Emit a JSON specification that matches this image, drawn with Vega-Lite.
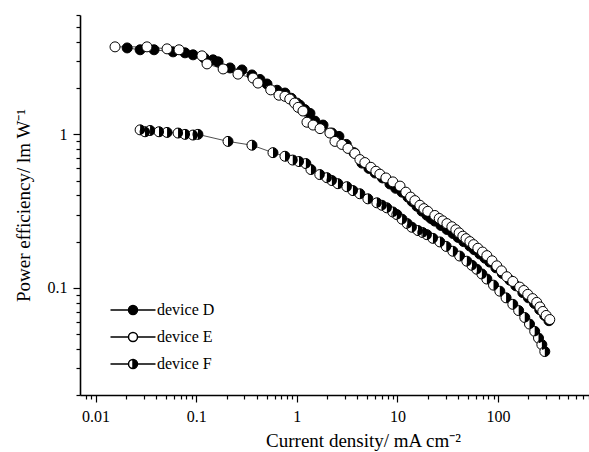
{
  "$schema": "https://vega.github.io/schema/vega-lite/v6.json",
  "width": 509,
  "height": 380,
  "autosize": "none",
  "padding": {"left": 80, "top": 15, "right": 0, "bottom": 57},
  "background": "white",
  "config": {"view": {"stroke": null}},
  "datasets": {
    "pts": [
      {"device": "device D", "j": 0.0206, "pe": 3.66},
      {"device": "device D", "j": 0.0277, "pe": 3.56},
      {"device": "device D", "j": 0.0381, "pe": 3.56},
      {"device": "device D", "j": 0.0589, "pe": 3.45},
      {"device": "device D", "j": 0.0774, "pe": 3.40},
      {"device": "device D", "j": 0.093, "pe": 3.30},
      {"device": "device D", "j": 0.12, "pe": 3.15},
      {"device": "device D", "j": 0.147, "pe": 3.06},
      {"device": "device D", "j": 0.165, "pe": 2.97},
      {"device": "device D", "j": 0.217, "pe": 2.71},
      {"device": "device D", "j": 0.285, "pe": 2.63},
      {"device": "device D", "j": 0.358, "pe": 2.44},
      {"device": "device D", "j": 0.43, "pe": 2.28},
      {"device": "device D", "j": 0.505, "pe": 2.13},
      {"device": "device D", "j": 0.635, "pe": 1.94},
      {"device": "device D", "j": 0.762, "pe": 1.86},
      {"device": "device D", "j": 0.88, "pe": 1.72},
      {"device": "device D", "j": 1.0, "pe": 1.60},
      {"device": "device D", "j": 1.07, "pe": 1.55},
      {"device": "device D", "j": 1.2, "pe": 1.45},
      {"device": "device D", "j": 1.35, "pe": 1.37},
      {"device": "device D", "j": 1.51, "pe": 1.22},
      {"device": "device D", "j": 1.82, "pe": 1.15},
      {"device": "device D", "j": 2.23, "pe": 1.02},
      {"device": "device D", "j": 2.62, "pe": 0.97},
      {"device": "device D", "j": 3.1, "pe": 0.86},
      {"device": "device D", "j": 3.7, "pe": 0.76},
      {"device": "device D", "j": 4.43, "pe": 0.65},
      {"device": "device D", "j": 5.2, "pe": 0.60},
      {"device": "device D", "j": 6.0, "pe": 0.56},
      {"device": "device D", "j": 7.1, "pe": 0.52},
      {"device": "device D", "j": 8.41, "pe": 0.475},
      {"device": "device D", "j": 9.6, "pe": 0.445},
      {"device": "device D", "j": 11.1, "pe": 0.42},
      {"device": "device D", "j": 12.7, "pe": 0.39},
      {"device": "device D", "j": 14.0, "pe": 0.365},
      {"device": "device D", "j": 15.6, "pe": 0.34},
      {"device": "device D", "j": 17.5, "pe": 0.316},
      {"device": "device D", "j": 19.6, "pe": 0.297},
      {"device": "device D", "j": 21.5, "pe": 0.283},
      {"device": "device D", "j": 23.5, "pe": 0.272},
      {"device": "device D", "j": 27, "pe": 0.255},
      {"device": "device D", "j": 31, "pe": 0.24},
      {"device": "device D", "j": 35.5, "pe": 0.226},
      {"device": "device D", "j": 40, "pe": 0.213},
      {"device": "device D", "j": 45.5, "pe": 0.2},
      {"device": "device D", "j": 52.4, "pe": 0.187},
      {"device": "device D", "j": 58, "pe": 0.177},
      {"device": "device D", "j": 65.8, "pe": 0.166},
      {"device": "device D", "j": 74, "pe": 0.156},
      {"device": "device D", "j": 82.7, "pe": 0.147},
      {"device": "device D", "j": 95, "pe": 0.135},
      {"device": "device D", "j": 110, "pe": 0.124},
      {"device": "device D", "j": 131, "pe": 0.112},
      {"device": "device D", "j": 150, "pe": 0.103},
      {"device": "device D", "j": 176, "pe": 0.093},
      {"device": "device D", "j": 200, "pe": 0.086},
      {"device": "device D", "j": 230, "pe": 0.079},
      {"device": "device D", "j": 259, "pe": 0.072},
      {"device": "device D", "j": 290, "pe": 0.066},
      {"device": "device D", "j": 320, "pe": 0.061},
      {"device": "device E", "j": 0.0156, "pe": 3.72},
      {"device": "device E", "j": 0.0324, "pe": 3.72},
      {"device": "device E", "j": 0.0513, "pe": 3.61},
      {"device": "device E", "j": 0.0675, "pe": 3.56},
      {"device": "device E", "j": 0.114, "pe": 3.25},
      {"device": "device E", "j": 0.128, "pe": 2.88},
      {"device": "device E", "j": 0.185, "pe": 2.67},
      {"device": "device E", "j": 0.26, "pe": 2.47},
      {"device": "device E", "j": 0.367, "pe": 2.33},
      {"device": "device E", "j": 0.411, "pe": 2.16},
      {"device": "device E", "j": 0.55, "pe": 1.95},
      {"device": "device E", "j": 0.664, "pe": 1.80},
      {"device": "device E", "j": 0.762, "pe": 1.77},
      {"device": "device E", "j": 0.85, "pe": 1.70},
      {"device": "device E", "j": 0.95, "pe": 1.60},
      {"device": "device E", "j": 1.03, "pe": 1.50},
      {"device": "device E", "j": 1.15, "pe": 1.42},
      {"device": "device E", "j": 1.26, "pe": 1.20},
      {"device": "device E", "j": 1.45, "pe": 1.15},
      {"device": "device E", "j": 1.7, "pe": 1.09},
      {"device": "device E", "j": 2.13, "pe": 1.02},
      {"device": "device E", "j": 2.39, "pe": 0.90},
      {"device": "device E", "j": 2.80, "pe": 0.86},
      {"device": "device E", "j": 3.22, "pe": 0.81},
      {"device": "device E", "j": 3.77, "pe": 0.75},
      {"device": "device E", "j": 4.23, "pe": 0.685},
      {"device": "device E", "j": 4.74, "pe": 0.655},
      {"device": "device E", "j": 5.44, "pe": 0.61},
      {"device": "device E", "j": 6.1, "pe": 0.575},
      {"device": "device E", "j": 6.68, "pe": 0.55},
      {"device": "device E", "j": 7.67, "pe": 0.52},
      {"device": "device E", "j": 9.0, "pe": 0.49},
      {"device": "device E", "j": 10.6, "pe": 0.46},
      {"device": "device E", "j": 12.1, "pe": 0.42},
      {"device": "device E", "j": 13.5, "pe": 0.39},
      {"device": "device E", "j": 14.9, "pe": 0.37},
      {"device": "device E", "j": 16.7, "pe": 0.345},
      {"device": "device E", "j": 18.3, "pe": 0.328},
      {"device": "device E", "j": 20.0, "pe": 0.315},
      {"device": "device E", "j": 23.5, "pe": 0.296},
      {"device": "device E", "j": 26, "pe": 0.283},
      {"device": "device E", "j": 28.2, "pe": 0.273},
      {"device": "device E", "j": 31, "pe": 0.262},
      {"device": "device E", "j": 34.7, "pe": 0.25},
      {"device": "device E", "j": 38, "pe": 0.239},
      {"device": "device E", "j": 41, "pe": 0.228},
      {"device": "device E", "j": 44.6, "pe": 0.217},
      {"device": "device E", "j": 48, "pe": 0.209},
      {"device": "device E", "j": 52.4, "pe": 0.2},
      {"device": "device E", "j": 57, "pe": 0.191},
      {"device": "device E", "j": 62.9, "pe": 0.181},
      {"device": "device E", "j": 70, "pe": 0.171},
      {"device": "device E", "j": 77.3, "pe": 0.162},
      {"device": "device E", "j": 87, "pe": 0.15},
      {"device": "device E", "j": 97, "pe": 0.139},
      {"device": "device E", "j": 108, "pe": 0.129},
      {"device": "device E", "j": 122, "pe": 0.118},
      {"device": "device E", "j": 140, "pe": 0.11},
      {"device": "device E", "j": 164, "pe": 0.101},
      {"device": "device E", "j": 180, "pe": 0.096},
      {"device": "device E", "j": 197, "pe": 0.0906},
      {"device": "device E", "j": 220, "pe": 0.085},
      {"device": "device E", "j": 242, "pe": 0.0803},
      {"device": "device E", "j": 260, "pe": 0.075},
      {"device": "device E", "j": 278, "pe": 0.0701},
      {"device": "device E", "j": 300, "pe": 0.066},
      {"device": "device E", "j": 326, "pe": 0.0621},
      {"device": "device F", "j": 0.0277, "pe": 1.07},
      {"device": "device F", "j": 0.031, "pe": 1.04},
      {"device": "device F", "j": 0.0348, "pe": 1.06},
      {"device": "device F", "j": 0.0427, "pe": 1.04},
      {"device": "device F", "j": 0.0513, "pe": 1.03},
      {"device": "device F", "j": 0.066, "pe": 1.02},
      {"device": "device F", "j": 0.0774, "pe": 1.00},
      {"device": "device F", "j": 0.093, "pe": 0.99},
      {"device": "device F", "j": 0.104, "pe": 1.00},
      {"device": "device F", "j": 0.207, "pe": 0.90},
      {"device": "device F", "j": 0.358, "pe": 0.85},
      {"device": "device F", "j": 0.579, "pe": 0.76},
      {"device": "device F", "j": 0.762, "pe": 0.72},
      {"device": "device F", "j": 0.91, "pe": 0.68},
      {"device": "device F", "j": 1.05, "pe": 0.665},
      {"device": "device F", "j": 1.23, "pe": 0.645},
      {"device": "device F", "j": 1.38, "pe": 0.59},
      {"device": "device F", "j": 1.69, "pe": 0.547},
      {"device": "device F", "j": 1.99, "pe": 0.522},
      {"device": "device F", "j": 2.23, "pe": 0.50},
      {"device": "device F", "j": 2.56, "pe": 0.477},
      {"device": "device F", "j": 3.14, "pe": 0.456},
      {"device": "device F", "j": 3.61, "pe": 0.43},
      {"device": "device F", "j": 4.23, "pe": 0.41},
      {"device": "device F", "j": 5.08, "pe": 0.38},
      {"device": "device F", "j": 6.24, "pe": 0.358},
      {"device": "device F", "j": 7.0, "pe": 0.345},
      {"device": "device F", "j": 7.84, "pe": 0.332},
      {"device": "device F", "j": 9.0, "pe": 0.312},
      {"device": "device F", "j": 9.86, "pe": 0.30},
      {"device": "device F", "j": 11.1, "pe": 0.28},
      {"device": "device F", "j": 12.5, "pe": 0.262},
      {"device": "device F", "j": 13.9, "pe": 0.248},
      {"device": "device F", "j": 16, "pe": 0.236},
      {"device": "device F", "j": 17.8, "pe": 0.229},
      {"device": "device F", "j": 19.6, "pe": 0.222},
      {"device": "device F", "j": 22.5, "pe": 0.21},
      {"device": "device F", "j": 26.4, "pe": 0.199},
      {"device": "device F", "j": 30.5, "pe": 0.186},
      {"device": "device F", "j": 35.5, "pe": 0.173},
      {"device": "device F", "j": 41.5, "pe": 0.161},
      {"device": "device F", "j": 48.9, "pe": 0.149},
      {"device": "device F", "j": 55, "pe": 0.140},
      {"device": "device F", "j": 61.4, "pe": 0.132},
      {"device": "device F", "j": 69, "pe": 0.123},
      {"device": "device F", "j": 77.3, "pe": 0.114},
      {"device": "device F", "j": 90, "pe": 0.104},
      {"device": "device F", "j": 104, "pe": 0.095},
      {"device": "device F", "j": 120, "pe": 0.086},
      {"device": "device F", "j": 140, "pe": 0.078},
      {"device": "device F", "j": 160, "pe": 0.071},
      {"device": "device F", "j": 184, "pe": 0.064},
      {"device": "device F", "j": 205, "pe": 0.058},
      {"device": "device F", "j": 231, "pe": 0.052},
      {"device": "device F", "j": 252, "pe": 0.047},
      {"device": "device F", "j": 272, "pe": 0.0426},
      {"device": "device F", "j": 291, "pe": 0.0384}
    ]
  },
  "data": {"name": "pts"},
  "encoding": {
    "x": {
      "field": "j", "type": "quantitative",
      "scale": {"type": "log", "domain": [0.007, 800], "nice": false},
      "axis": {
        "title": "Current density/ mA cm⁻²",
        "titleFont": "Liberation Serif", "titleFontSize": 19, "titleFontWeight": "normal", "titleColor": "black",
        "titleX": 283, "titlePadding": 7,
        "values": [0.008, 0.009, 0.01, 0.02, 0.03, 0.04, 0.05, 0.06, 0.07, 0.08, 0.09, 0.1, 0.2, 0.3, 0.4, 0.5, 0.6, 0.7, 0.8, 0.9, 1, 2, 3, 4, 5, 6, 7, 8, 9, 10, 20, 30, 40, 50, 60, 70, 80, 90, 100, 200, 300, 400, 500, 600, 700, 800],
        "format": "~g",
        "labelExpr": "indexof(['0.01','0.1','1','10','100'], datum.label) >= 0 ? datum.label : ''",
        "labelFont": "Liberation Serif", "labelFontSize": 16, "labelColor": "black",
        "labelPadding": 6, "labelFlush": false, "labelOverlap": false,
        "tickSize": {"condition": {"test": "indexof([0.01, 0.1, 1, 10, 100], datum.value) >= 0", "value": 7}, "value": 4},
        "tickColor": "black", "tickWidth": 1.2,
        "domainColor": "black", "domainWidth": 1.6,
        "grid": false
      }
    },
    "y": {
      "field": "pe", "type": "quantitative",
      "scale": {"type": "log", "domain": [0.02, 6], "nice": false},
      "axis": {
        "title": "Power efficiency/ lm W⁻¹",
        "titleFont": "Liberation Serif", "titleFontSize": 19, "titleFontWeight": "normal", "titleColor": "black",
        "titlePadding": 14,
        "values": [0.02, 0.03, 0.04, 0.05, 0.06, 0.07, 0.08, 0.09, 0.1, 0.2, 0.3, 0.4, 0.5, 0.6, 0.7, 0.8, 0.9, 1, 2, 3, 4, 5, 6],
        "format": "~g",
        "labelExpr": "indexof(['0.1','1'], datum.label) >= 0 ? datum.label : ''",
        "labelFont": "Liberation Serif", "labelFontSize": 16, "labelColor": "black",
        "labelPadding": 6, "labelFlush": false, "labelOverlap": false,
        "tickSize": {"condition": {"test": "indexof([0.1, 1], datum.value) >= 0", "value": 7}, "value": 4},
        "tickColor": "black", "tickWidth": 1.2,
        "domainColor": "black", "domainWidth": 1.6,
        "grid": false
      }
    }
  },
  "layer": [
    {
      "mark": {"type": "line", "color": "#222", "strokeWidth": 0.8},
      "encoding": {"detail": {"field": "device"}, "order": {"field": "j", "type": "quantitative"}}
    },
    {
      "transform": [{"filter": "datum.device === 'device D'"}],
      "mark": {"type": "point", "shape": "circle", "filled": true, "fill": "black", "stroke": "black", "strokeWidth": 1, "size": 100, "opacity": 1}
    },
    {
      "transform": [{"filter": "datum.device === 'device E'"}],
      "mark": {"type": "point", "shape": "circle", "filled": true, "fill": "white", "stroke": "black", "strokeWidth": 1, "size": 100, "opacity": 1}
    },
    {
      "transform": [{"filter": "datum.device === 'device F'"}],
      "mark": {"type": "point", "shape": "circle", "filled": true, "fill": "white", "stroke": "black", "strokeWidth": 1, "size": 100, "opacity": 1}
    },
    {
      "transform": [{"filter": "datum.device === 'device F'"}],
      "mark": {"type": "point", "shape": "M0,-1A1,1 0 0,1 0,1Z", "filled": true, "fill": "black", "strokeWidth": 0, "size": 100, "opacity": 1}
    },
    {
      "transform": [{"filter": "datum.j < 0"}],
      "mark": {"type": "point", "filled": true, "stroke": "black", "strokeWidth": 1, "opacity": 1},
      "encoding": {
        "shape": {
          "field": "device", "type": "nominal",
          "scale": {
            "domain": ["device D", "device E", "device F"],
            "range": [
              "M-1,0A1,1 0 1,1 1,0A1,1 0 1,1 -1,0Z M-5,0L-1,0 M1,0L5,0",
              "M-1,0A1,1 0 1,1 1,0A1,1 0 1,1 -1,0Z M-5,0L-1,0 M1,0L5,0",
              "M0,-1A1,1 0 1,1 0,1A1,1 0 1,1 0,-1Z M0,-1A1,1 0 0,0 0,1Z M-5,0L-1,0 M1,0L5,0"
            ]
          },
          "legend": {
            "title": null,
            "orient": "none", "legendX": 45, "legendY": 287,
            "padding": 0,
            "symbolSize": 81, "symbolOpacity": 1,
            "labelFont": "Liberation Serif", "labelFontSize": 16, "labelColor": "black",
            "labelOffset": 16, "rowPadding": 11,
            "encode": {
              "symbols": {
                "update": {
                  "stroke": {"value": "black"},
                  "strokeWidth": {"value": 1},
                  "opacity": {"value": 1}
                }
              }
            }
          }
        },
        "fill": {
          "field": "device", "type": "nominal",
          "scale": {"domain": ["device D", "device E", "device F"], "range": ["black", "white", "black"]}
        }
      }
    }
  ]
}
